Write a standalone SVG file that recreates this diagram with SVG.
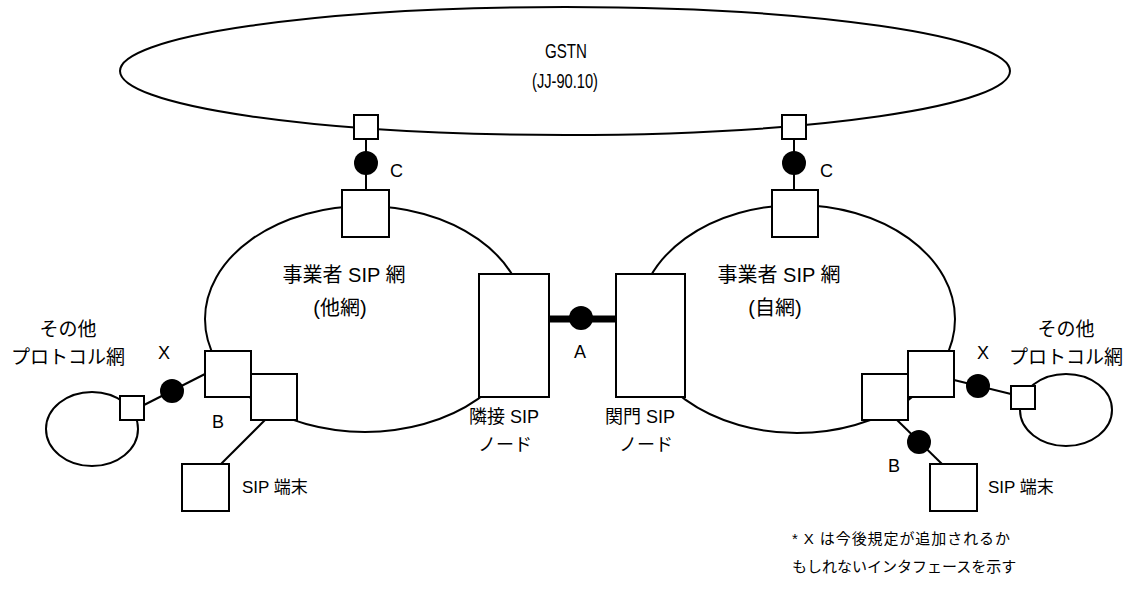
<svg xmlns="http://www.w3.org/2000/svg" width="1131" height="591" viewBox="0 0 1131 591">
<style>
.ln{stroke:#000;stroke-width:2;fill:none}
.bx{stroke:#000;stroke-width:2;fill:#fff}
.dot{fill:#000}
text{font-family:"Liberation Sans","Noto Sans CJK JP",sans-serif;fill:#000}
.t20{font-size:20px}
.t19{font-size:19px}
.t18{font-size:18px}
.t17{font-size:17px}
.t15{font-size:15px}
.m{text-anchor:middle}
</style>
<rect width="1131" height="591" fill="#fff"/>
<g id="gstn">
<ellipse class="ln" cx="565" cy="71" rx="445" ry="64"/>
<text class="t20 m" x="566" y="58" textLength="42" lengthAdjust="spacingAndGlyphs">GSTN</text>
<text class="t20 m" x="565" y="88" textLength="66" lengthAdjust="spacingAndGlyphs">(JJ-90.10)</text>
</g>
<g id="net-other">
<ellipse class="ln" cx="365" cy="319" rx="160" ry="113"/>
<text class="t20 m" x="344" y="282">事業者 SIP 網</text>
<text class="t20 m" x="340" y="315">(他網)</text>
</g>
<g id="net-self">
<ellipse class="ln" cx="797" cy="319" rx="158" ry="114"/>
<text class="t20 m" x="779" y="282">事業者 SIP 網</text>
<text class="t20 m" x="775" y="315">(自網)</text>
</g>
<g id="proto-left">
<ellipse class="ln" cx="92" cy="429" rx="46" ry="37"/>
<text class="t19 m" x="68" y="336">その他</text>
<text class="t19 m" x="68" y="364">プロトコル網</text>
</g>
<g id="proto-right">
<ellipse class="ln" cx="1066" cy="410" rx="46" ry="36"/>
<text class="t19 m" x="1066" y="336">その他</text>
<text class="t19 m" x="1066" y="364">プロトコル網</text>
</g>
<g id="connectors">
<line class="ln" x1="366" y1="139" x2="366" y2="190"/>
<line class="ln" x1="794" y1="139" x2="794" y2="190"/>
<line x1="549" y1="319" x2="616" y2="319" stroke="#000" stroke-width="7"/>
<line class="ln" x1="205" y1="374" x2="144" y2="405"/>
<line class="ln" x1="265" y1="420" x2="221" y2="464"/>
<line class="ln" x1="954" y1="380" x2="1011" y2="394"/>
<line class="ln" x1="897" y1="420" x2="942" y2="464"/>
<circle class="dot" cx="366" cy="163" r="12"/>
<circle class="dot" cx="794" cy="163" r="12"/>
<circle class="dot" cx="581" cy="318" r="12"/>
<circle class="dot" cx="172" cy="391" r="12"/>
<circle class="dot" cx="978" cy="386" r="12"/>
<circle class="dot" cx="919" cy="442" r="12"/>
<text class="t18" x="390" y="177">C</text>
<text class="t18" x="820" y="177">C</text>
<text class="t18 m" x="580" y="358">A</text>
<text class="t18" x="158" y="359">X</text>
<text class="t18" x="977" y="359">X</text>
<text class="t18" x="212" y="428">B</text>
<text class="t18" x="888" y="472">B</text>
</g>
<g id="gw-left-top"><rect class="bx" x="354" y="115" width="24" height="24"/></g>
<g id="gw-right-top"><rect class="bx" x="782" y="115" width="24" height="24"/></g>
<g id="c-left"><rect class="bx" x="342" y="190" width="47" height="47"/></g>
<g id="c-right"><rect class="bx" x="772" y="190" width="46" height="47"/></g>
<g id="node-adj">
<rect class="bx" x="479" y="274" width="70" height="123"/>
<text class="t18" x="469" y="423">隣接 SIP</text>
<text class="t18 m" x="505" y="451">ノード</text>
</g>
<g id="node-gate">
<rect class="bx" x="616" y="274" width="69" height="123"/>
<text class="t18" x="605" y="423">関門 SIP</text>
<text class="t18 m" x="646" y="451">ノード</text>
</g>
<g id="gw-left-x"><rect class="bx" x="205" y="351" width="46" height="46"/></g>
<g id="gw-left-b"><rect class="bx" x="251" y="374" width="46" height="46"/></g>
<g id="gw-right-b"><rect class="bx" x="862" y="374" width="46" height="46"/></g>
<g id="gw-right-x"><rect class="bx" x="908" y="351" width="46" height="46"/></g>
<g id="proto-left-gw"><rect class="bx" x="120" y="396" width="24" height="24"/></g>
<g id="proto-right-gw"><rect class="bx" x="1011" y="386" width="24" height="23"/></g>
<g id="term-left">
<rect class="bx" x="182" y="464" width="47" height="47"/>
<text class="t17" x="242" y="493">SIP 端末</text>
</g>
<g id="term-right">
<rect class="bx" x="930" y="464" width="47" height="47"/>
<text class="t17" x="988" y="493">SIP 端末</text>
</g>
<g id="note">
<text class="t15" x="792" y="544" textLength="218" lengthAdjust="spacing">* X は今後規定が追加されるか</text>
<text class="t15" x="792" y="572">もしれないインタフェースを示す</text>
</g>
</svg>
